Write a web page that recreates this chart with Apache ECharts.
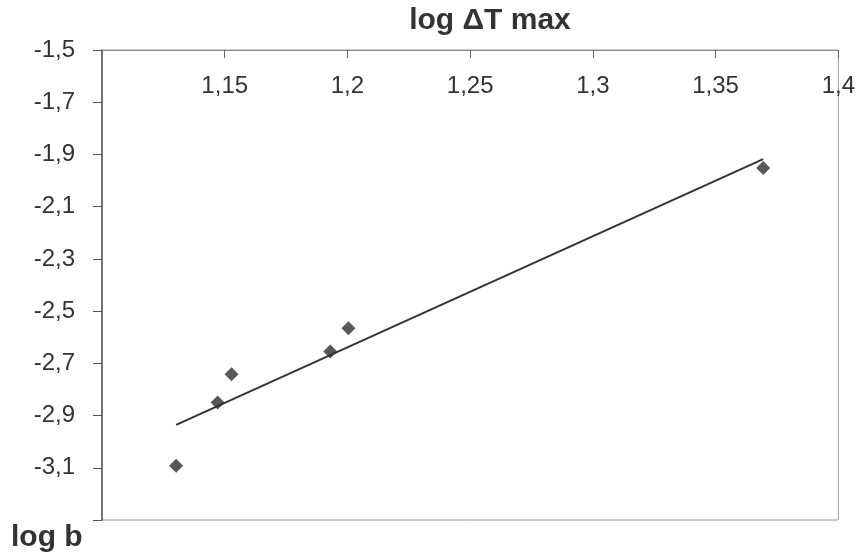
<!DOCTYPE html>
<html>
<head>
<meta charset="utf-8">
<script src="https://cdn.jsdelivr.net/npm/echarts@6/dist/echarts.min.js"></script>
<style>
html,body{margin:0;padding:0;background:#fff;}
#chart{width:858px;height:556px;}
</style>
</head>
<body>
<div id="chart"></div>
<script>
// Data
const xValues = [1.1302, 1.1471, 1.1528, 1.1930, 1.2004, 1.3694];
const yValues = [-3.092, -2.850, -2.742, -2.655, -2.566, -1.952];
// Linear trendline endpoints (as drawn)
const trendX = [1.1302, 1.3694];
const trendY = [-2.936, -1.918];
// Axis ticks / labels
const xTickValues = [1.15, 1.2, 1.25, 1.3, 1.35, 1.4];
const yTickValues = [-3.3, -3.1, -2.9, -2.7, -2.5, -2.3, -2.1, -1.9, -1.7, -1.5];
const yLabelValues = [-3.1, -2.9, -2.7, -2.5, -2.3, -2.1, -1.9, -1.7, -1.5];
const titleText = 'log ΔT max';
const yTitleText = 'log b';

const points = xValues.map((x, i) => [x, yValues[i]]);
const trend = trendX.map((x, i) => [x, trendY[i]]);
const fmt = v => String(+Number(v).toFixed(2)).replace('.', ',');
const FONT = "'Liberation Sans', Arial, sans-serif";

const chart = echarts.init(document.getElementById('chart'), null, {renderer: 'canvas'});
chart.setOption({
  backgroundColor: '#ffffff',
  animation: false,
  title: [
    {text: titleText, left: 485, textAlign: 'center', top: 1,
     textStyle: {fontFamily: FONT, fontSize: 30, fontWeight: 'bold', color: '#333'}},
    {text: yTitleText, left: 6, top: 518,
     textStyle: {fontFamily: FONT, fontSize: 30, fontWeight: 'bold', color: '#333'}}
  ],
  grid: {left: 102, right: 15, top: 50, bottom: 36, show: true,
         borderColor: '#9a9a9a', borderWidth: 1, backgroundColor: 'transparent'},
  xAxis: {
    type: 'value', position: 'top', min: 1.1, max: 1.4,
    axisLine: {show: true, onZero: false, lineStyle: {color: '#8a8a8a', width: 1}},
    axisTick: {show: true, inside: true, length: 8, customValues: xTickValues,
               lineStyle: {color: '#666', width: 1}},
    axisLabel: {show: true, inside: true, margin: 24, customValues: xTickValues,
                formatter: fmt, fontFamily: FONT, fontSize: 24, color: '#333'},
    splitLine: {show: false}
  },
  yAxis: {
    type: 'value', min: -3.3, max: -1.5,
    axisLine: {show: true, onZero: false, lineStyle: {color: '#555', width: 1.5}},
    axisTick: {show: true, inside: false, length: 9, customValues: yTickValues,
               lineStyle: {color: '#555', width: 1}},
    axisLabel: {show: true, margin: 27, customValues: yLabelValues,
                formatter: fmt, fontFamily: FONT, fontSize: 24, color: '#333'},
    splitLine: {show: false}
  },
  series: [
    {type: 'line', data: trend, showSymbol: false, symbol: 'none',
     lineStyle: {color: '#333', width: 2}, z: 2},
    {type: 'scatter', data: points, symbol: 'diamond', symbolSize: 14,
     itemStyle: {color: '#2e2e2e'}, z: 3}
  ]
});
</script>
</body>
</html>
